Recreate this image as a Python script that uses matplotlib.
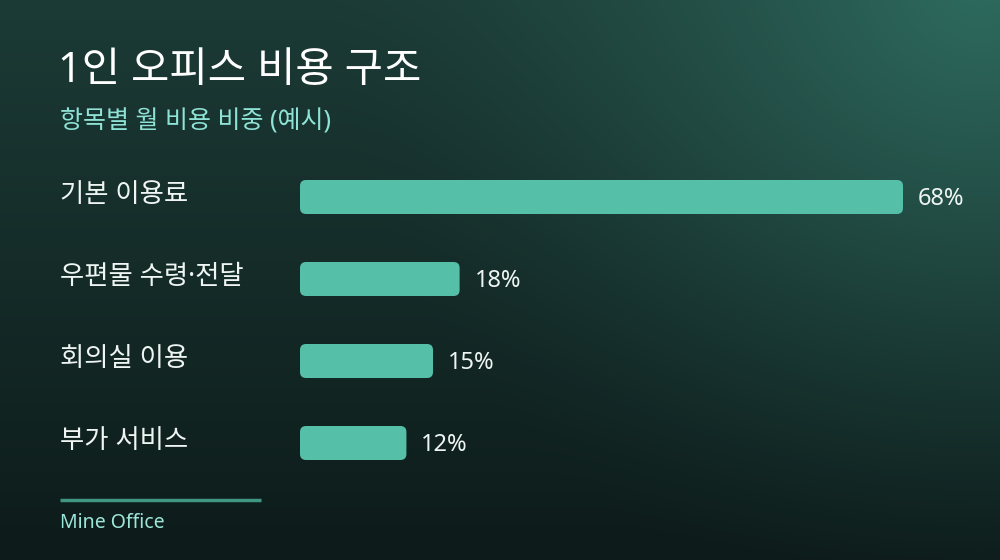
import numpy as np
import matplotlib
matplotlib.use("Agg")
import matplotlib.pyplot as plt
from matplotlib.patches import FancyBboxPatch
from matplotlib.colors import to_rgb
import matplotlib.transforms as mtransforms

# Latin from Noto Sans, Hangul falls through to the CJK family
plt.rcParams['font.family'] = ['Noto Sans', 'Noto Sans CJK KR', 'DejaVu Sans']

categories = ['기본 이용료', '우편물 수령·전달', '회의실 이용', '부가 서비스']
values = [68, 18, 15, 12]
title = '1인 오피스 비용 구조'
subtitle = '항목별 월 비용 비중 (예시)'
footer = 'Mine Office'

W, H = 1000, 560
fig = plt.figure(figsize=(W / 100, H / 100), dpi=100)

# background gradient
bg = fig.add_axes([0, 0, 1, 1])
bg.set_axis_off()
yy, xx = np.mgrid[0:H, 0:W]
top = np.array(to_rgb('#1c3b36'))
bot = np.array(to_rgb('#0d1b1a'))
t = (yy / H)[..., None]
img = top * (1 - t) + bot * t
glow = np.array(to_rgb('#2e6b5f'))
d = np.sqrt((xx - 980) ** 2 + (yy + 20) ** 2) / 650
w = np.clip(1 - d, 0, 1)[..., None] ** 1.5
img = img * (1 - w) + glow * w
bg.imshow(img, extent=[0, 1, 0, 1], aspect='auto', zorder=0)
bg.set_xlim(0, 1)
bg.set_ylim(0, 1)

# bar axes
x0, x1 = 300, 1000
ytop, ybot = 156, 484
ax = fig.add_axes([x0 / W, 1 - ybot / H, (x1 - x0) / W, (ybot - ytop) / H])
ax.set_axis_off()
px_per_pct = 603 / 68
ax.set_xlim(0, (x1 - x0) / px_per_pct)
ax.set_ylim(len(values) - 0.5, -0.5)

bar_h = 34 / 82
rx = 6 / px_per_pct
ry = 6 / 82
for i, v in enumerate(values):
    p = FancyBboxPatch((0, i - bar_h / 2), v, bar_h,
                       boxstyle=f"round,pad=0,rounding_size={rx}",
                       mutation_aspect=ry / rx,
                       facecolor='#55bfa8', edgecolor='none')
    ax.add_patch(p)
    ax.text(v + 15 / px_per_pct, i + 0.02, f'{v}%', color='#eef5f3', fontsize=17,
            va='center', ha='left')

trans = mtransforms.blended_transform_factory(fig.transFigure, ax.transData)
for i, c in enumerate(categories):
    ax.text(60 / W, i - 0.03, c, transform=trans, color='#eef5f3', fontsize=19,
            va='center', ha='left')

fig.text(58 / W, 1 - 71 / H, title, color='#ffffff', fontsize=30,
         va='center', ha='left', fontweight='medium')
fig.text(60 / W, 1 - 122 / H, subtitle, color='#8fe3d6', fontsize=18,
         va='center', ha='left')

bg.plot([60 / W, 261 / W], [1 - 500 / H, 1 - 500 / H], color='#3f9683', lw=2.5,
        solid_capstyle='butt')
fig.text(60 / W, 1 - 523 / H, footer, color='#9de6da', fontsize=14,
         va='center', ha='left')

fig.savefig('out.png', dpi=100)
